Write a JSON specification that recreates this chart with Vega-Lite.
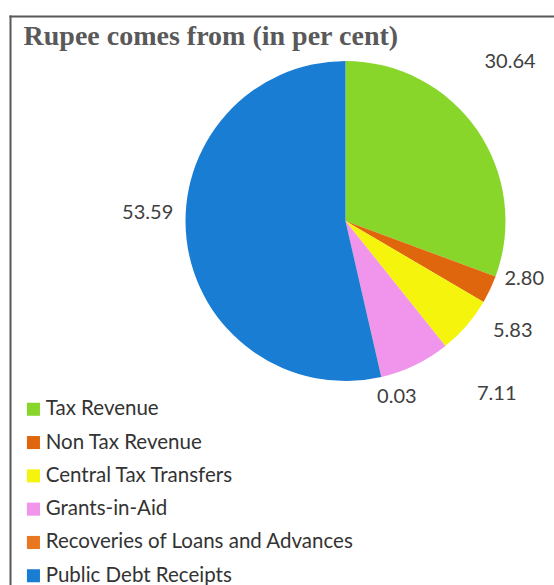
{
  "$schema": "https://vega.github.io/schema/vega-lite/v6.json",
  "width": 544,
  "height": 569,
  "autosize": {"type": "none"},
  "padding": {"left": 10, "top": 16, "right": 0, "bottom": 0},
  "background": "white",
  "view": {"stroke": null, "fill": null},
  "title": {
    "text": "Rupee comes from (in per cent)",
    "anchor": "start",
    "font": "Liberation Serif",
    "fontSize": 28,
    "fontWeight": "bold",
    "color": "#595959",
    "offset": -38,
    "dx": 16
  },
  "data": {
    "values": [
      {"idx": 1, "category": "Tax Revenue", "value": 30.64},
      {"idx": 2, "category": "Non Tax Revenue", "value": 2.80},
      {"idx": 3, "category": "Central Tax Transfers", "value": 5.83},
      {"idx": 4, "category": "Grants-in-Aid", "value": 7.11},
      {"idx": 5, "category": "Recoveries of Loans and Advances", "value": 0.03},
      {"idx": 6, "category": "Public Debt Receipts", "value": 53.59}
    ]
  },
  "layer": [
    {
      "mark": {"type": "point", "opacity": 0},
      "encoding": {
        "x": {
          "field": "value",
          "type": "quantitative",
          "axis": {"orient": "top", "domainColor": "#595959", "domainWidth": 2, "domainCap": "square", "ticks": false, "labels": false, "grid": false, "title": null}
        },
        "y": {
          "field": "idx",
          "type": "quantitative",
          "axis": {"orient": "left", "domainColor": "#595959", "domainWidth": 2, "domainCap": "square", "ticks": false, "labels": false, "grid": false, "title": null}
        }
      }
    },
    {
      "mark": {"type": "arc", "outerRadius": 160, "x": 335.5, "y": 205},
      "encoding": {
        "theta": {"field": "value", "type": "quantitative", "stack": true},
        "order": {"field": "idx", "type": "quantitative"},
        "color": {
          "field": "category",
          "type": "nominal",
          "scale": {
            "domain": ["Tax Revenue", "Non Tax Revenue", "Central Tax Transfers", "Grants-in-Aid", "Recoveries of Loans and Advances", "Public Debt Receipts"],
            "range": ["#88D62A", "#E0660E", "#F4F40C", "#F094EC", "#E8771F", "#1A7DD4"]
          },
          "legend": {
            "orient": "none",
            "legendX": 13.2,
            "legendY": 383,
            "title": null,
            "symbolType": "square",
            "symbolSize": 170,
            "symbolStrokeWidth": 0,
            "labelFont": "Lato",
            "labelFontSize": 20.5,
            "labelColor": "#333333",
            "labelOffset": 2,
            "rowPadding": 12.3,
            "labelLimit": 400
          }
        }
      }
    },
    {
      "mark": {
        "type": "text",
        "x": 335.5,
        "y": 205,
        "radius": {"expr": "[229, 188, 200, 230, 183, 198][datum.idx - 1]"},
        "thetaOffset": {"expr": "[-0.161, -0.128, -0.133, -0.267, -0.058, 0.154][datum.idx - 1]"},
        "font": "Lato",
        "fontSize": 20
      },
      "encoding": {
        "theta": {"field": "value", "type": "quantitative", "stack": true},
        "order": {"field": "idx", "type": "quantitative"},
        "text": {"field": "value", "type": "quantitative", "format": ".2f"},
        "color": {"value": "#404040"}
      }
    }
  ]
}
